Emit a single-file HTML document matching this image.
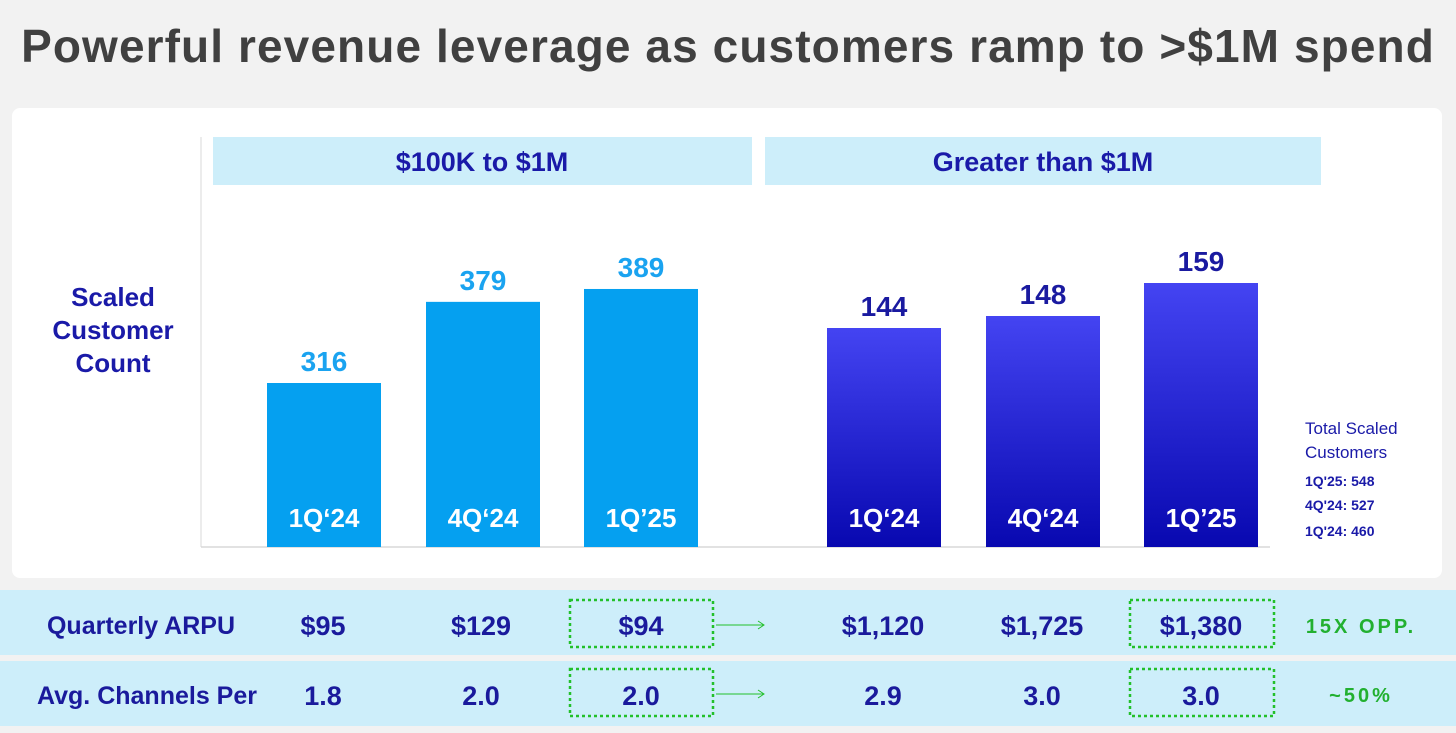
<!DOCTYPE html>
<html><head><meta charset="utf-8"><style>
body{margin:0;width:1456px;height:733px;background:#f2f2f2;font-family:"Liberation Sans",sans-serif;overflow:hidden;position:relative}
.abs{position:absolute}
.t{text-align:center;white-space:nowrap}
</style></head><body>
<div class="abs t" style="left:0;width:1456px;top:19px;font-size:46px;letter-spacing:1.1px;font-weight:bold;color:#404040">Powerful revenue leverage as customers ramp to &gt;$1M spend</div>
<div class="abs" style="left:12px;top:108px;width:1430px;height:470px;background:#fff;border-radius:8px"></div>
<svg class="abs" style="left:0;top:0" width="1456" height="733" id="chart">
<defs><linearGradient id="g" x1="0" y1="0" x2="0" y2="1"><stop offset="0" stop-color="#4444f2"/><stop offset="1" stop-color="#0808b0"/></linearGradient></defs>
<rect x="213" y="137" width="539" height="48" fill="#cdeefa"/>
<text x="482" y="171" text-anchor="middle" font-size="27" font-weight="bold" fill="#1a1aa8">$100K to $1M</text>
<rect x="765" y="137" width="556" height="48" fill="#cdeefa"/>
<text x="1043" y="171" text-anchor="middle" font-size="27" font-weight="bold" fill="#1a1aa8">Greater than $1M</text>
<line x1="201" y1="137" x2="201" y2="547" stroke="#e6e6e6" stroke-width="1.5"/>
<line x1="201" y1="547" x2="1270" y2="547" stroke="#d8d8d8" stroke-width="1.5"/>
<g id="bars"></g>
<g font-size="26" font-weight="bold" fill="#1a1aa8" text-anchor="middle">
<text x="113" y="306">Scaled</text><text x="113" y="339">Customer</text><text x="113" y="372">Count</text></g>
<g font-size="17" fill="#1a1aa8">
<text x="1305" y="434">Total Scaled</text><text x="1305" y="458">Customers</text>
<text x="1305" y="486" font-size="14" font-weight="bold">1Q'25: 548</text>
<text x="1305" y="510" font-size="14" font-weight="bold">4Q'24: 527</text>
<text x="1305" y="536" font-size="14" font-weight="bold">1Q'24: 460</text></g>
<rect x="0" y="590" width="1456" height="65" fill="#cdeefa"/>
<rect x="0" y="661" width="1456" height="65" fill="#cdeefa"/>
<g font-size="27" font-weight="bold" fill="#1a1a9c" text-anchor="middle">
<text x="141" y="634" font-size="25">Quarterly ARPU</text>
<text x="323" y="635">$95</text><text x="481" y="635">$129</text><text x="641" y="635">$94</text>
<text x="883" y="635">$1,120</text><text x="1042" y="635">$1,725</text><text x="1201" y="635">$1,380</text>
<text x="147" y="704" font-size="25">Avg. Channels Per</text>
<text x="323" y="705">1.8</text><text x="481" y="705">2.0</text><text x="641" y="705">2.0</text>
<text x="883" y="705">2.9</text><text x="1042" y="705">3.0</text><text x="1201" y="705">3.0</text></g>
<g fill="none" stroke="#22c02a" stroke-width="2.5" stroke-dasharray="3 3">
<rect x="570" y="600" width="143" height="47"/>
<rect x="1130" y="600" width="144" height="47"/>
<rect x="570" y="669" width="143" height="47"/>
<rect x="1130" y="669" width="144" height="47"/></g>
<g stroke="#22c02a" stroke-width="1" fill="none">
<path d="M716 625H764M758 621L764 625L758 629"/><path d="M716 694H764M758 690L764 694L758 698"/></g>
<g font-size="20" font-weight="bold" fill="#22b030" text-anchor="middle" letter-spacing="3">
<text x="1361" y="633">15X OPP.</text><text x="1361" y="702">~50%</text></g>
</svg>
<script>
const categories=["1Q‘24","4Q‘24","1Q’25"];
const smallValues=[316,379,389];
const largeValues=[144,148,159];
const base=547;
function ySmall(v){return base-(164+1.288*(v-316));}
function yLarge(v){return base-(219+3.0*(v-144));}
const g=document.getElementById('bars');
const ns='http://www.w3.org/2000/svg';
function draw(vals,xs,yf,fill,lc,grp){
vals.forEach((v,i)=>{
const y=yf(v);
const r=document.createElementNS(ns,'rect');
r.setAttribute('x',xs[i]);r.setAttribute('y',y);r.setAttribute('width',114);r.setAttribute('height',base-y);r.setAttribute('fill',fill);


g.appendChild(r);
const t=document.createElementNS(ns,'text');
t.setAttribute('x',xs[i]+57);t.setAttribute('y',y-12);t.setAttribute('text-anchor','middle');t.setAttribute('font-size','28');t.setAttribute('font-weight','bold');t.setAttribute('fill',lc);
t.textContent=v;


g.appendChild(t);
const c=document.createElementNS(ns,'text');
c.setAttribute('x',xs[i]+57);c.setAttribute('y',527);c.setAttribute('text-anchor','middle');c.setAttribute('font-size','26');c.setAttribute('font-weight','bold');c.setAttribute('fill','#fff');
c.textContent=categories[i];


g.appendChild(c);
});}
draw(smallValues,[267,426,584],ySmall,'#05a0f0','#1aa3f0','small');
draw(largeValues,[827,986,1144],yLarge,'url(#g)','#1a1aa0','large');
</script>
</body></html>
